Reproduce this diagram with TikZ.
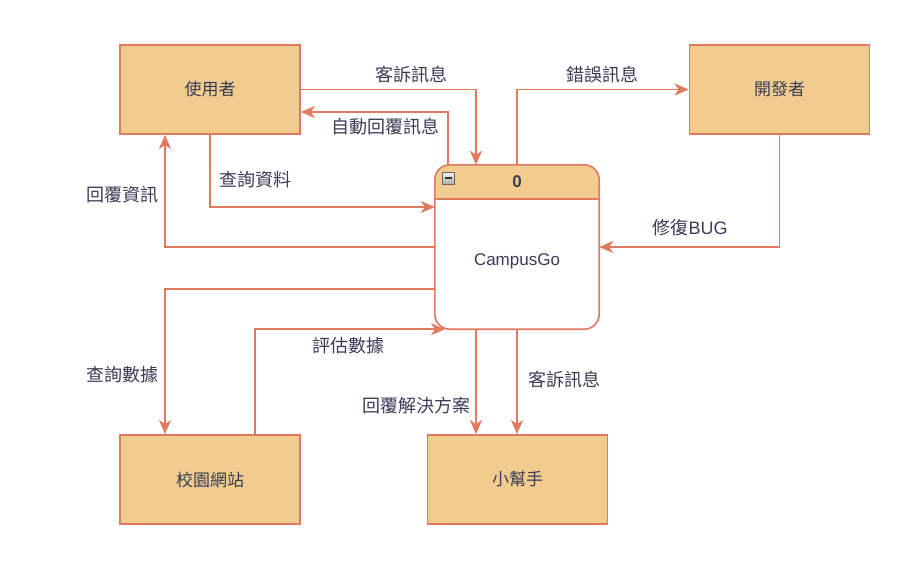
\documentclass[tikz,border=0pt]{standalone}
\usepackage{fontspec}
\setmainfont{Noto Sans CJK TC}
\newfontfamily\latinfont{Liberation Sans}
\usetikzlibrary{arrows.meta}
\definecolor{strokec}{HTML}{E07A5F}
\definecolor{fillc}{HTML}{F2CC8F}
\definecolor{textc}{HTML}{393C56}
\tikzset{
  ent/.style={draw=strokec, fill=fillc, line width=1.8pt, minimum width=180pt, minimum height=89pt, inner sep=0pt, text=textc, font=\fontsize{17}{20}\selectfont},
  flow/.style={draw=strokec, line width=1.8pt, -{Stealth[length=14pt,width=12pt,inset=4pt]}},
  lbl/.style={text=textc, font=\fontsize{18}{21}\selectfont, inner sep=0pt},
}
\begin{document}
\begin{tikzpicture}[x=1pt,y=-1pt]
\useasboundingbox (0,0) rectangle (911,571);
% entities
\node[ent] (user) at (210,89.5) {使用者};
\node[ent] (dev) at (779.5,89.5) {開發者};
\node[ent] (site) at (210,479.5) {校園網站};
\node[ent] (helper) at (517.5,479.5) {小幫手};
% process
\node[fill=white, rounded corners=15pt, minimum width=164pt, minimum height=164pt, inner sep=0pt] (proc) at (517,247) {};
\begin{scope}
  \clip[rounded corners=15pt] (proc.north west) rectangle (proc.south east);
  \fill[fillc] (proc.north west) rectangle ([yshift=-34pt]proc.north east);
\end{scope}
\draw[strokec, line width=1.6pt, rounded corners=15pt] (proc.north west) rectangle (proc.south east);
\draw[strokec, line width=1.6pt] ([yshift=-34pt]proc.north west) -- ([yshift=-34pt]proc.north east);
\node[text=textc, font=\latinfont\bfseries\fontsize{17}{20}\selectfont] (pnum) at (517,182) {0};
\node[text=textc, font=\latinfont\fontsize{17}{20}\selectfont] (pname) at (517,261) {CampusGo};
\node[draw=gray!80!black, line width=0.6pt, top color=gray!10, bottom color=gray!65, minimum size=12pt, inner sep=0pt] (icon) at (448,178) {};
\draw[black!80, line width=1.4pt] ([xshift=-3.5pt]icon.center) -- ([xshift=3.5pt]icon.center);
% flows
\draw[flow] (user.east) -| ([xshift=-41pt]proc.north);
\draw[flow] ([xshift=-69pt]proc.north) |- ([yshift=-22.5pt]user.east);
\draw[flow] (proc.north) |- (dev.west);
\draw[flow] (dev.south) |- (proc.east);
\draw[flow] (user.south) |- ([yshift=40pt]proc.west);
\draw[flow] (proc.west) -| ([xshift=-45pt]user.south);
\draw[flow] ([yshift=-42pt]proc.west) -| ([xshift=-45pt]site.north);
\draw[flow] ([xshift=45pt]site.north) |- ([xshift=-72pt]proc.south);
\draw[flow] ([xshift=-41pt]proc.south) -- ([xshift=-41.5pt]helper.north);
\draw[flow] (proc.south) -- ([xshift=-0.5pt]helper.north);
% labels
\node[lbl] (l1) at (411,75) {客訴訊息};
\node[lbl] (l2) at (385,127) {自動回覆訊息};
\node[lbl] (l3) at (602,75) {錯誤訊息};
\node[lbl] (l4) at (690,228) {修復{\latinfont BUG}};
\node[lbl] (l5) at (255,180) {查詢資料};
\node[lbl] (l6) at (122,195) {回覆資訊};
\node[lbl] (l7) at (122,375) {查詢數據};
\node[lbl] (l8) at (348,346) {評估數據};
\node[lbl] (l9) at (416,406) {回覆解決方案};
\node[lbl] (l10) at (564,380) {客訴訊息};
\end{tikzpicture}
\end{document}
